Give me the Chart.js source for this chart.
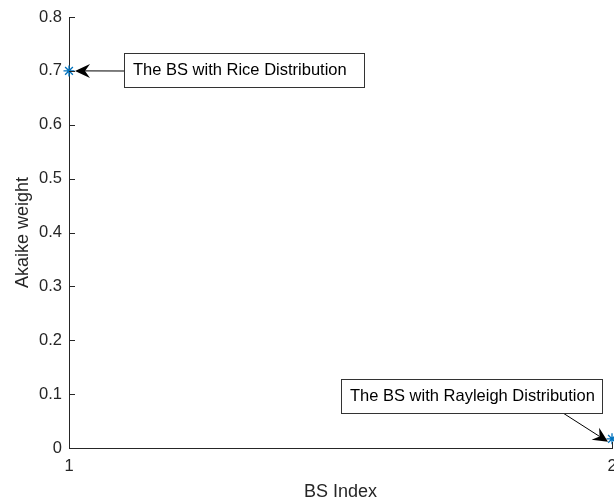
<!DOCTYPE html>
<html>
<head>
<meta charset="utf-8">
<script src="https://cdn.jsdelivr.net/npm/chart.js@4"></script>
<style>
    html, body { margin: 0; padding: 0; background: #fff; }
    #wrap { width: 614px; height: 500px; }
</style>
</head>
<body>
<div id="wrap"><canvas id="akaike_chart"></canvas></div>
<script>
// data
const bsIndex = [1, 2];
const akaikeWeight = [0.7, 0.017];
const xTickValues = [1, 2];
const yTickValues = [0, 0.1, 0.2, 0.3, 0.4, 0.5, 0.6, 0.7, 0.8];
const noteTexts = ['The BS with Rice Distribution', 'The BS with Rayleigh Distribution'];

const axisColor = '#262626';
const FONT = "'Liberation Sans', Arial, sans-serif";

// inward tick marks (matlab style) + text box annotations with arrows
const matlabExtras = {
    id: 'matlabExtras',
    afterDatasetsDraw(chart) {
        const ctx = chart.ctx;
        const xs = chart.scales.x, ys = chart.scales.y;
        const area = chart.chartArea;

        ctx.save();
        ctx.strokeStyle = axisColor;
        ctx.lineWidth = 1;
        ctx.beginPath();
        yTickValues.forEach(v => {
            const py = Math.round(ys.getPixelForValue(v)) + 0.5;
            ctx.moveTo(area.left, py);
            ctx.lineTo(area.left + 6, py);
        });
        xTickValues.forEach(v => {
            const px = Math.round(xs.getPixelForValue(v)) + 0.5;
            ctx.moveTo(px, area.bottom);
            ctx.lineTo(px, area.bottom - 6);
        });
        ctx.stroke();
        ctx.restore();

        // annotation boxes: box [left, top, w, h], arrow tail, tip offset from the data point
        const notes = [
            { i: 0, box: [124.5, 53.5, 240, 34], tail: [124, 71], off: [6, 0] },
            { i: 1, box: [341.5, 379.5, 261, 34], tail: [563, 413], off: [-4, 3] }
        ];
        notes.forEach(n => {
            const px = xs.getPixelForValue(bsIndex[n.i]);
            const py = ys.getPixelForValue(akaikeWeight[n.i]);
            const tip = [px + n.off[0], py + n.off[1]];
            drawArrow(ctx, n.tail, tip);

            ctx.save();
            ctx.fillStyle = '#fff';
            ctx.fillRect(n.box[0], n.box[1], n.box[2], n.box[3]);
            ctx.strokeStyle = '#333';
            ctx.lineWidth = 1;
            ctx.strokeRect(n.box[0], n.box[1], n.box[2], n.box[3]);
            ctx.fillStyle = '#000';
            ctx.font = '16.5px ' + FONT;
            ctx.textBaseline = 'middle';
            ctx.textAlign = 'left';
            ctx.fillText(noteTexts[n.i], n.box[0] + 8.5, n.box[1] + n.box[3] / 2);
            ctx.restore();
        });
    }
};

function drawArrow(ctx, from, to) {
    const ang = Math.atan2(to[1] - from[1], to[0] - from[0]);
    const len = 15, half = 7, notch = 10;
    const cos = Math.cos(ang), sin = Math.sin(ang);
    const pt = (a, b) => [to[0] - a * cos + b * sin, to[1] - a * sin - b * cos];
    ctx.save();
    ctx.strokeStyle = '#000';
    ctx.lineWidth = 1;
    ctx.beginPath();
    const base = pt(notch, 0);
    ctx.moveTo(from[0], from[1]);
    ctx.lineTo(base[0], base[1]);
    ctx.stroke();
    ctx.fillStyle = '#000';
    ctx.beginPath();
    const l = pt(len, half), r = pt(len, -half);
    ctx.moveTo(to[0], to[1]);
    ctx.lineTo(l[0], l[1]);
    ctx.lineTo(base[0], base[1]);
    ctx.lineTo(r[0], r[1]);
    ctx.closePath();
    ctx.fill();
    ctx.restore();
}

const ctx1 = document.getElementById('akaike_chart').getContext('2d');

const akaike_chart = new Chart(ctx1, {
    type: 'scatter',
    data: {
        datasets: [{
            label: 'Akaike weight',
            data: bsIndex.map((x, i) => ({ x: x, y: akaikeWeight[i] })),
            pointStyle: 'star',
            pointRadius: 5.5,
            pointBorderWidth: 1.3,
            borderColor: '#0072BD',
            backgroundColor: '#0072BD',
            showLine: false,
            clip: false
        }]
    },
    options: {
        responsive: true,
        maintainAspectRatio: false,
        animation: false,
        layout: {
            autoPadding: false, // let the marker at x=2 run off the edge like the original
            padding: { left: 0, right: 2, top: 17, bottom: 0 }
        },
        plugins: {
            legend: { display: false },
            tooltip: { enabled: false }
        },
        scales: {
            x: {
                type: 'linear',
                min: 1,
                max: 2,
                afterBuildTicks: s => { s.ticks = xTickValues.map(v => ({ value: v })); },
                ticks: {
                    color: axisColor,
                    padding: 9,
                    maxRotation: 0,
                    font: { family: FONT, size: 16.5, lineHeight: 1.2 }
                },
                grid: { display: true, drawOnChartArea: false, drawTicks: false },
                border: { display: true, color: axisColor, width: 1 },
                title: {
                    display: true,
                    text: 'BS Index',
                    color: axisColor,
                    padding: 0,
                    font: { family: FONT, size: 18, lineHeight: 0.9 }
                },
                afterFit: s => { s.height = 52; s.paddingLeft = 0; s.paddingRight = 0; }
            },
            y: {
                min: 0,
                max: 0.8,
                afterBuildTicks: s => { s.ticks = yTickValues.map(v => ({ value: v })); },
                ticks: {
                    color: axisColor,
                    padding: 7,
                    callback: v => String(Number(v.toFixed(1))),
                    font: { family: FONT, size: 16.5 }
                },
                grid: { display: true, drawOnChartArea: false, drawTicks: false },
                border: { display: true, color: axisColor, width: 1 },
                title: {
                    display: true,
                    text: 'Akaike weight',
                    color: axisColor,
                    padding: { top: 14, bottom: 0 },
                    font: { family: FONT, size: 18, lineHeight: 1 }
                },
                afterFit: s => { s.width = 69; s.paddingTop = 0; s.paddingBottom = 0; }
            }
        }
    },
    plugins: [matlabExtras]
});
</script>
</body>
</html>
